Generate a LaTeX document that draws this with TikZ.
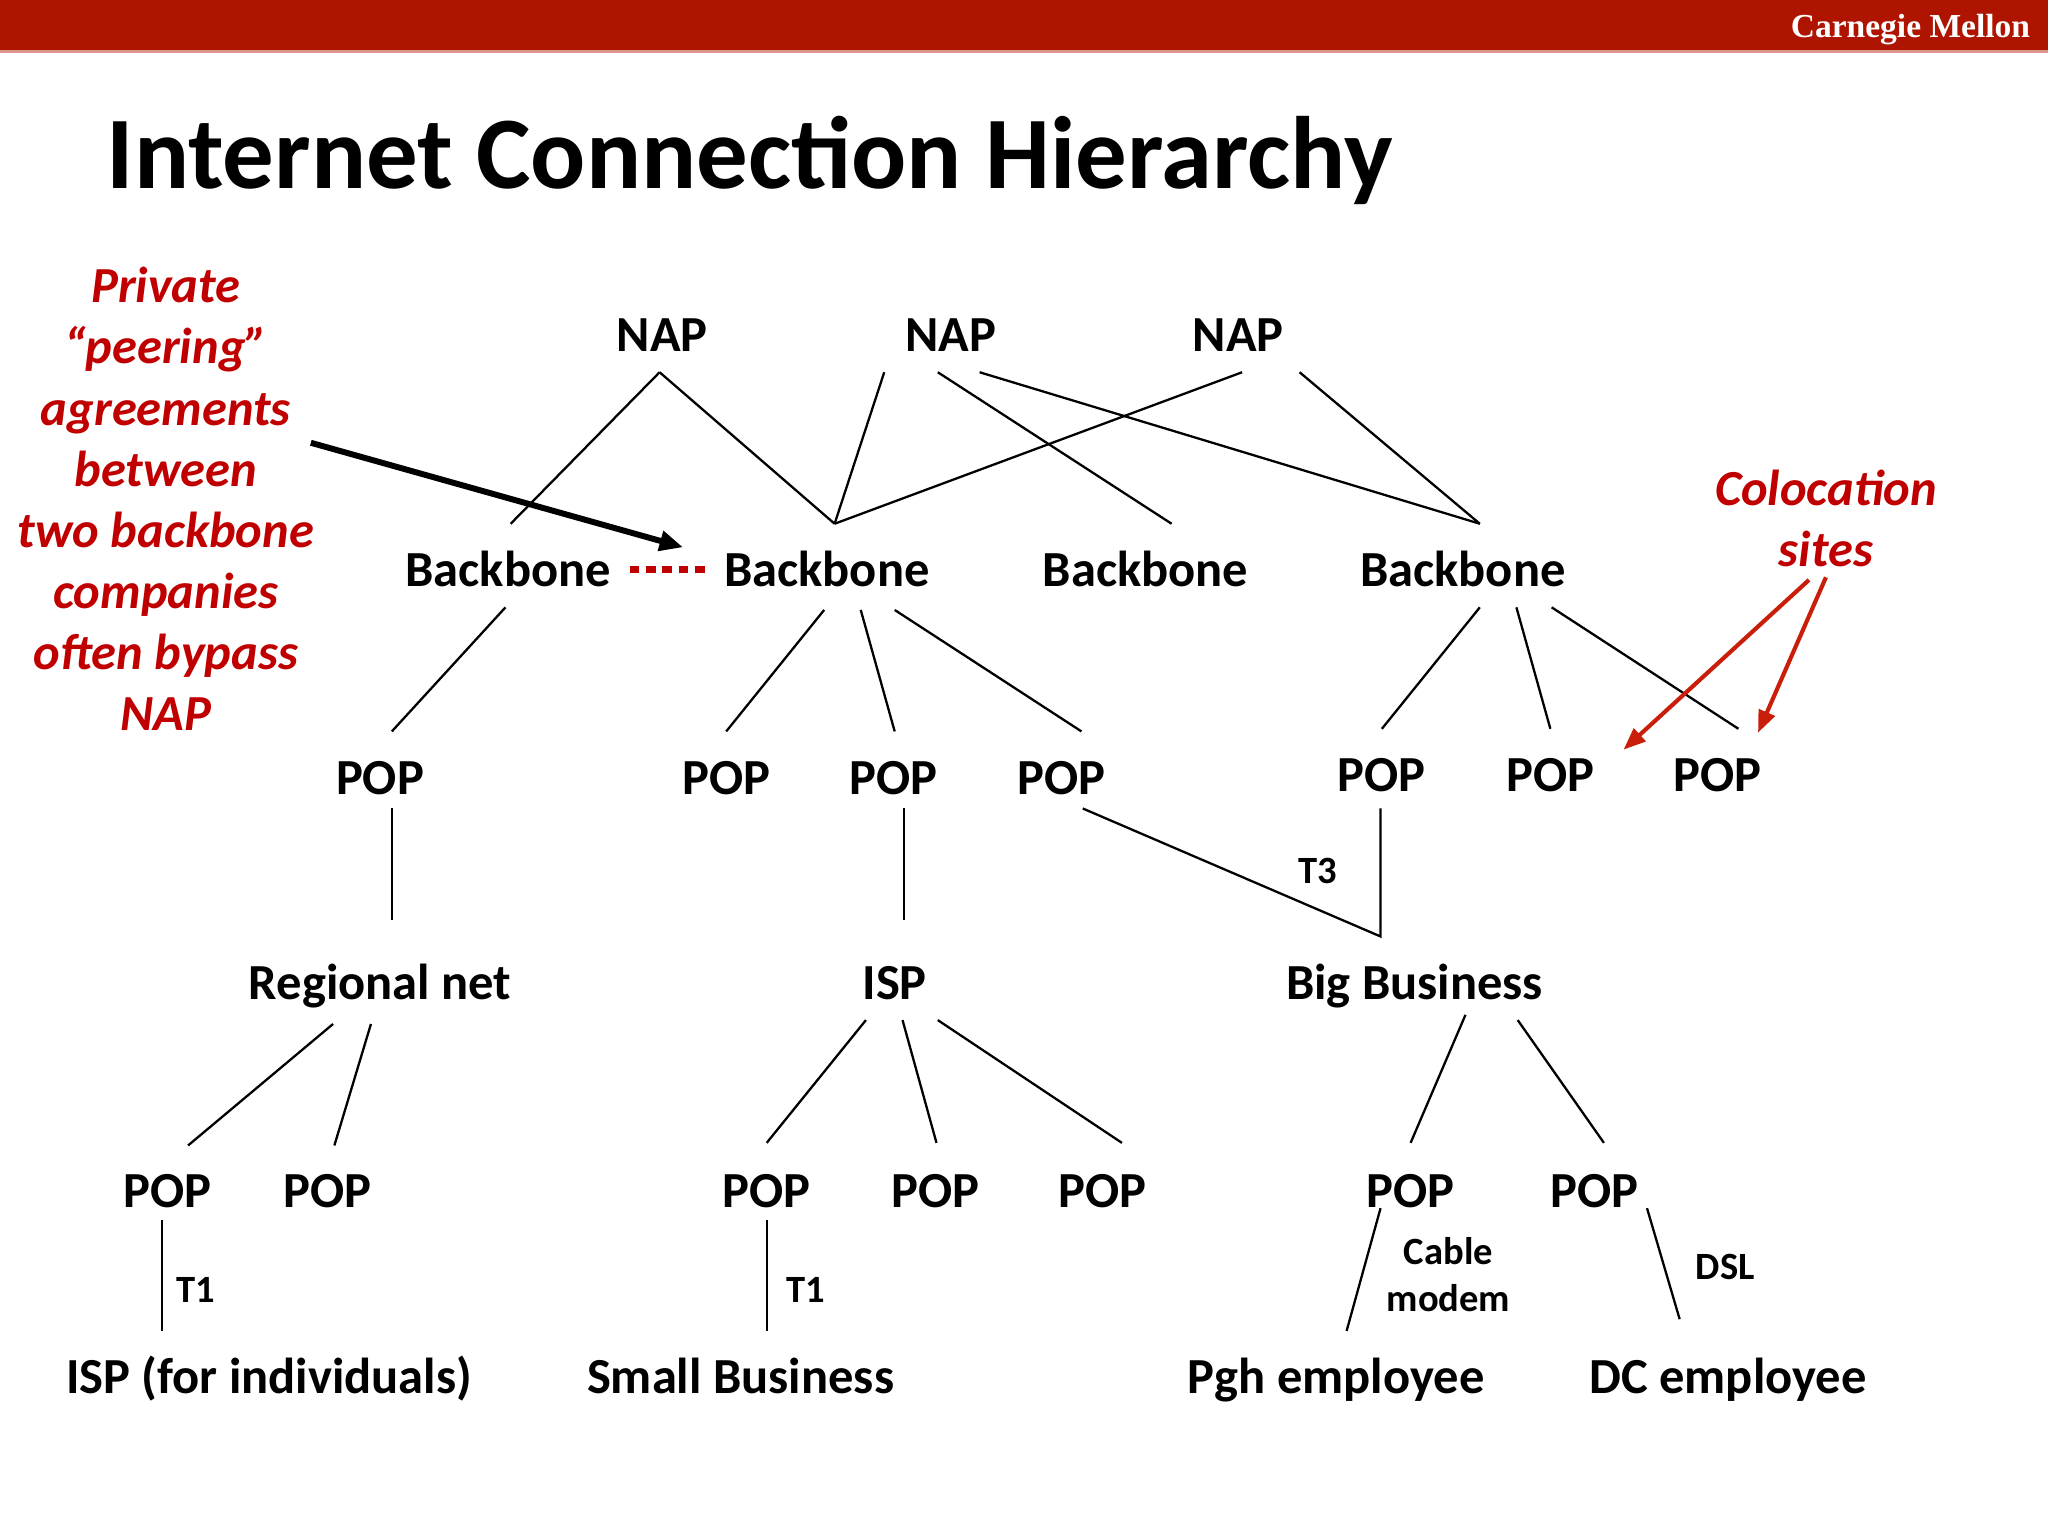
\documentclass[tikz,border=0pt]{standalone}
\usepackage{fontspec}
\setmainfont{Carlito}
\newfontfamily\cmufont{Liberation Serif}
\usetikzlibrary{calc,arrows.meta}
\definecolor{barred}{RGB}{175,20,0}
\definecolor{notered}{RGB}{192,0,0}
\definecolor{arrowred}{RGB}{200,30,10}
\tikzset{
	nodelbl/.style={font=\fontsize{11pt}{13.3pt}\selectfont\bfseries, inner sep=0pt, text height=0.245cm, text depth=0pt},
	linklbl/.style={font=\fontsize{8.4pt}{10.2pt}\selectfont\bfseries, inner sep=0pt, text height=0.187cm, text depth=0pt},
	redtext/.style={font=\fontsize{11pt}{13.3pt}\selectfont\bfseries\itshape, text=notered, align=center, inner sep=0pt},
	conn/.style={line width=0.5pt},
	peerarrow/.style={line width=1.3pt, -{Triangle[length=0.18cm,width=0.15cm]}},
	redarrow/.style={draw=arrowred, line width=0.9pt, -{Triangle[length=0.17cm,width=0.13cm]}},
	peerdots/.style={draw=notered, line width=0.06cm, dash pattern=on 0.075cm off 0.05cm}
}
\begin{document}
\begin{tikzpicture}[x=0.01cm, y=-0.01cm]
	\useasboundingbox (0,0) rectangle (1568,1176);
	\fill[white] (0,0) rectangle (1568,1176);
	% Kopfleiste
	\fill[barred] (0,0) rectangle (1568,38);
	\draw[barred!45, line width=0.6pt] (0,39.5) -- (1568,39.5);
	\node[anchor=east, text=white, inner sep=0pt, text height=0.17cm, text depth=0pt,
		font=\cmufont\fontsize{7.3pt}{8pt}\selectfont\bfseries] (cmu) at (1555,20) {Carnegie Mellon};
	% Titel
	\node[anchor=west, inner sep=0pt, text height=0.50cm, text depth=0pt,
		font=\fontsize{22.4pt}{26pt}\selectfont\bfseries] (title) at (81,119) {Internet Connection Hierarchy};

	% NAPs
	\foreach \n/\x in {1/507, 2/728, 3/948}
		\node[nodelbl] (nap\n) at (\x,257) {NAP};
	% Backbones
	\foreach \n/\x in {1/389, 2/633, 3/877, 4/1120}
		\node[nodelbl] (bb\n) at (\x,437) {Backbone};
	% POPs oben
	\foreach \n/\x/\y in {a/291/596, b/556/596, c/684/596, d/813/596, e/1058/594, f/1187/594, g/1315/594}
		\node[nodelbl] (pop\n) at (\x,\y) {POP};
	% mittlere Ebene
	\node[nodelbl] (regional) at (291,753) {Regional net};
	\node[nodelbl] (isp) at (685,753) {ISP};
	\node[nodelbl] (bigbiz) at (1083,753) {Big Business};
	% POPs unten
	\foreach \n/\x in {1/128, 2/251, 3/587, 4/716, 5/844, 6/1080, 7/1221}
		\node[nodelbl] (pop\n) at (\x,912) {POP};
	% Endkunden
	\node[nodelbl] (indiv) at (206,1055) {ISP (for individuals)};
	\node[nodelbl] (smallbiz) at (567,1055) {Small Business};
	\node[nodelbl] (pgh) at (1023,1055) {Pgh employee};
	\node[nodelbl] (dc) at (1323,1055) {DC employee};

	% Verbindungen
	\foreach \a/\ax/\ay/\b/\bx/\by in {
		nap1/-2/28/bb1/2/-36, nap1/-2/28/bb2/6/-36, nap2/-51/28/bb2/6/-36,
		nap2/-10/28/bb3/20/-36, nap2/22/28/bb4/13/-36, nap3/3/28/bb2/6/-36,
		nap3/47/28/bb4/13/-36,
		bb1/-2/28/popa/9/-36, bb2/-2/30/popb/0/-36, bb2/26/30/popc/1/-36,
		bb2/52/30/popd/15/-36, bb4/13/28/pope/0/-36, bb4/41/28/popf/0/-36,
		bb4/68/28/popg/16/-36,
		popa/9/23/regional/9/-49, popc/8/23/isp/7/-49,
		regional/-36/31/pop1/16/-35, regional/-7/31/pop2/5/-35,
		isp/-22/28/pop3/0/-37, isp/6/28/pop4/1/-37, isp/33/28/pop5/15/-37,
		bigbiz/39/24/pop6/0/-37, bigbiz/79/28/pop7/7/-37,
		pop1/-4/22/indiv/-82/-36, pop3/0/22/smallbiz/20/-36,
		pop6/-23/13/pgh/8/-36, pop7/40/13/dc/-37/-45}
		\draw[conn] ($(\a)+(\ax,\ay)$) -- ($(\b)+(\bx,\by)$);
	% T3 zum Big Business
	\coordinate (t3join) at ($(bigbiz)+(-26,-36)$);
	\draw[conn] ($(popd)+(16,23)$) -- (t3join) -- ($(pope)+(-1,25)$);

	% Leitungsarten
	\node[linklbl] (t3) at (1009,667) {T3};
	\node[linklbl] (t1a) at (150,988) {T1};
	\node[linklbl] (t1b) at (617,988) {T1};
	\node[font=\fontsize{8.4pt}{10.2pt}\selectfont\bfseries, align=center, inner sep=0pt] (cable) at (1109,976) {Cable\\modem};
	\node[linklbl] (dsl) at (1321,970) {DSL};

	% Peering
	\draw[peerdots] ($(bb1)+(93,-1)$) -- ($(bb2)+(-92,-1)$);
	\node[redtext] (peer) at (127,382) {Private\\“peering”\\agreements\\between\\two backbone\\companies\\often bypass\\NAP};
	\draw[peerarrow] ($(peer)+(111,-43)$) -- ($(bb2)+(-110,-18)$);

	% Colocation
	\node[redtext] (coloc) at (1398,397) {Colocation\\sites};
	\draw[redarrow] ($(coloc)+(-13,47)$) -- ($(popf)+(56,-20)$);
	\draw[redarrow] ($(coloc)+(0,45)$) -- ($(popg)+(31,-33)$);
\end{tikzpicture}
\end{document}
